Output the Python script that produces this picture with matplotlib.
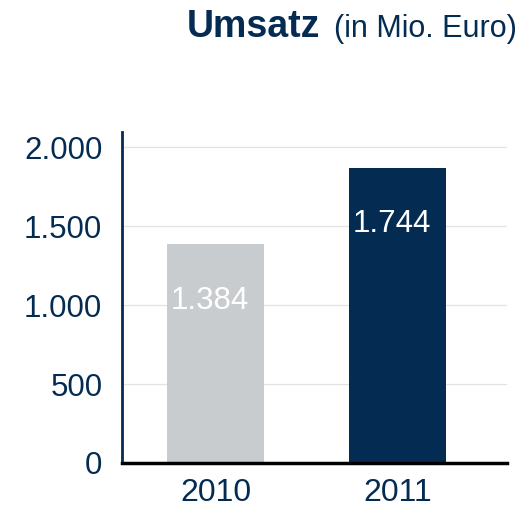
import matplotlib
matplotlib.use('Agg')
import matplotlib.pyplot as plt

years = ['2010', '2011']
umsatz = [1384, 1870]          # bar heights as drawn
labels = ['1.384', '1.744']    # printed values
yticks = [0, 500, 1000, 1500, 2000]
ytick_labels = ['0', '500', '1.000', '1.500', '2.000']

navy = '#042c52'
grey = '#c8cccf'

plt.rcParams['font.family'] = ['Liberation Sans', 'DejaVu Sans']

fig = plt.figure(figsize=(5.25, 5.11), dpi=100)
ax = fig.add_axes([0.232, 0.094, 0.734, 0.648])

x = list(range(len(years)))
bars = ax.bar(x, umsatz, width=0.533, color=[grey, navy], zorder=2)

for xi, h, lab in zip(x, umsatz, labels):
    ax.annotate(lab, xy=(xi, h), xytext=(-4, -38), textcoords='offset points',
                ha='center', va='center_baseline', color='white', fontsize=22.5)

ax.set_xlim(-0.514, 1.60)
ax.set_ylim(0, 2097)
ax.set_yticks(yticks)
ax.set_yticklabels(ytick_labels)
ax.set_xticks(x)
ax.set_xticklabels(years)
ax.tick_params(axis='both', length=0, labelsize=22.5, labelcolor=navy)
ax.tick_params(axis='x', labelsize=23, pad=11)
ax.tick_params(axis='y', pad=14)

ax.yaxis.grid(True, color='#e2e2e2', linewidth=0.9, zorder=0)
ax.set_axisbelow(True)
for s in ['top', 'right']:
    ax.spines[s].set_visible(False)
ax.spines['left'].set_color(navy)
ax.spines['left'].set_linewidth(2)
ax.spines['bottom'].set_color('black')
ax.spines['bottom'].set_linewidth(2.5)

t1 = fig.text(187 / 525, 0.9276, 'Umsatz', fontsize=27, fontweight='bold',
              color=navy, ha='left', va='baseline')
r = fig.canvas.get_renderer()
bb = t1.get_window_extent(r)
fig.text((bb.x1 + 14) / (5.25 * 100), 0.9276, '(in Mio. Euro)', fontsize=22,
         color=navy, ha='left', va='baseline')

fig.savefig('out.png', dpi=100)
